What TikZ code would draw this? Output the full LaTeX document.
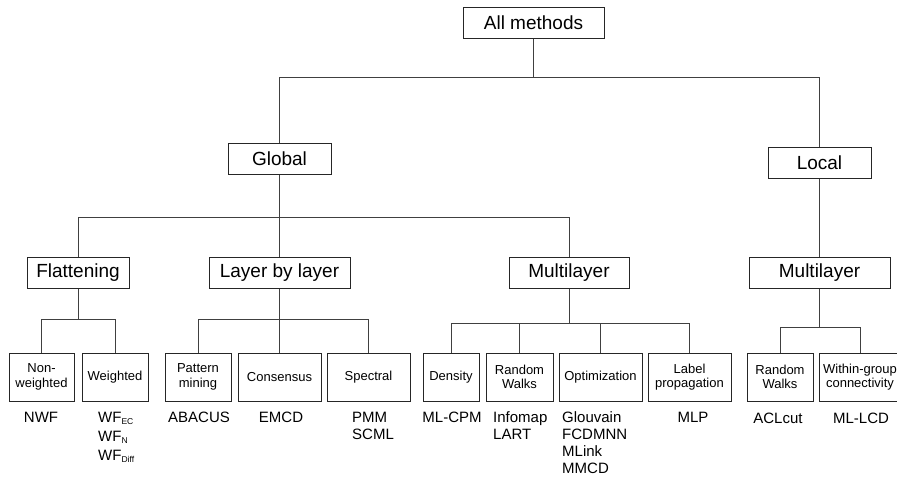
\documentclass[tikz,border=0pt]{standalone}
\usepackage{fontspec}
\setmainfont{Liberation Sans}
\newcommand\subtxt[1]{\raisebox{-2.2pt}{\fontsize{8.5}{9}\selectfont #1}}
\begin{document}
\begin{tikzpicture}[x=1pt,y=-1pt,
  box/.style={draw=black!85, line width=1pt, inner sep=0pt, align=center, fill=white},
  big/.style={box, font=\fontsize{19}{22}\selectfont, minimum height=31},
  small/.style={box, font=\fontsize{13}{14.5}\selectfont, minimum height=48},
  lab/.style={font=\fontsize{15}{17}\selectfont, inner sep=0pt, align=left},
  con/.style={draw=black!75, line width=1pt}
]
\useasboundingbox (0,0) rectangle (897,477);

% level 1 & 2
\node[big, minimum width=141] (all) at (533.5,22.5) {All methods};
\node[big, minimum width=103] (global) at (279.5,158.5) {Global};
\node[big, minimum width=103] (local) at (819.5,162.5) {Local};

% level 3
\node[big, minimum width=102] (flat) at (78,272.5) {Flattening};
\node[big, minimum width=141] (lbl) at (279.5,272.5) {Layer by layer};
\node[big, minimum width=120] (mlg) at (569,272.5) {Multilayer};
\node[big, minimum width=141] (mll) at (819.5,272.5) {Multilayer};

% level 4
\node[small, minimum width=65] (nonw) at (41.5,377) {Non-\\weighted};
\node[small, minimum width=66] (wei) at (115,377) {Weighted};
\node[small, minimum width=66] (pat) at (198,377) {Pattern\\mining};
\node[small, minimum width=83] (cons) at (279.5,377) {Consensus};
\node[small, minimum width=83] (spec) at (368.5,377) {Spectral};
\node[small, minimum width=56] (dens) at (451,377) {Density};
\node[small, minimum width=67] (rw) at (519.5,377) {Random\\Walks};
\node[small, minimum width=83] (opt) at (600.5,377) {Optimization};
\node[small, minimum width=83] (lp) at (689.5,377) {Label\\propagation};
\node[small, minimum width=66] (rwl) at (780,377) {Random\\Walks};
\node[small, minimum width=82] (wgc) at (860,377) {Within-group\\connectivity};

% labels
\node[lab] (l-nwf) at (41,417) {NWF};
\node[lab, anchor=north west] (l-wf) at (98,411.5) {WF\subtxt{EC}\\[2pt]WF\subtxt{N}\\[2pt]WF\subtxt{Diff}};
\node[lab] (l-abacus) at (199,417) {ABACUS};
\node[lab] (l-emcd) at (281,417) {EMCD};
\node[lab, anchor=north west] (l-pmm) at (352,411.5) {PMM\\SCML};
\node[lab] (l-mlcpm) at (452,417) {ML-CPM};
\node[lab, anchor=north west] (l-info) at (493,411.5) {Infomap\\LART};
\node[lab, anchor=north west] (l-glou) at (562,411.5) {Glouvain\\FCDMNN\\MLink\\MMCD};
\node[lab] (l-mlp) at (693,417) {MLP};
\node[lab] (l-acl) at (778,418) {ACLcut};
\node[lab] (l-mllcd) at (861,418) {ML-LCD};

% connectors level 1 -> 2
\draw[con] (all.south) -- (all.south |- 0,77);
\draw[con] (global.north) -- (global.north |- 0,77) -- (local.north |- 0,77) -- (local.north);

% global -> level 3
\draw[con] (global.south) -- (global.south |- 0,217);
\draw[con] (flat.north) -- (flat.north |- 0,217) -- (mlg.north |- 0,217) -- (mlg.north);
\draw[con] (lbl.north) -- (lbl.north |- 0,217);

% local -> multilayer
\draw[con] (local.south) -- (mll.north);

% flattening
\draw[con] (flat.south) -- (flat.south |- 0,319);
\draw[con] (nonw.north) -- (nonw.north |- 0,319) -- (wei.north |- 0,319) -- (wei.north);

% layer by layer
\draw[con] (lbl.south) -- (cons.north);
\draw[con] (pat.north) -- (pat.north |- 0,319) -- (spec.north |- 0,319) -- (spec.north);

% multilayer global
\draw[con] (mlg.south) -- (mlg.south |- 0,323);
\draw[con] (dens.north) -- (dens.north |- 0,323) -- (lp.north |- 0,323) -- (lp.north);
\draw[con] (rw.north) -- (rw.north |- 0,323);
\draw[con] (opt.north) -- (opt.north |- 0,323);

% multilayer local
\draw[con] (mll.south) -- (mll.south |- 0,327);
\draw[con] (rwl.north) -- (rwl.north |- 0,327) -- (wgc.north |- 0,327) -- (wgc.north);
\end{tikzpicture}
\end{document}
